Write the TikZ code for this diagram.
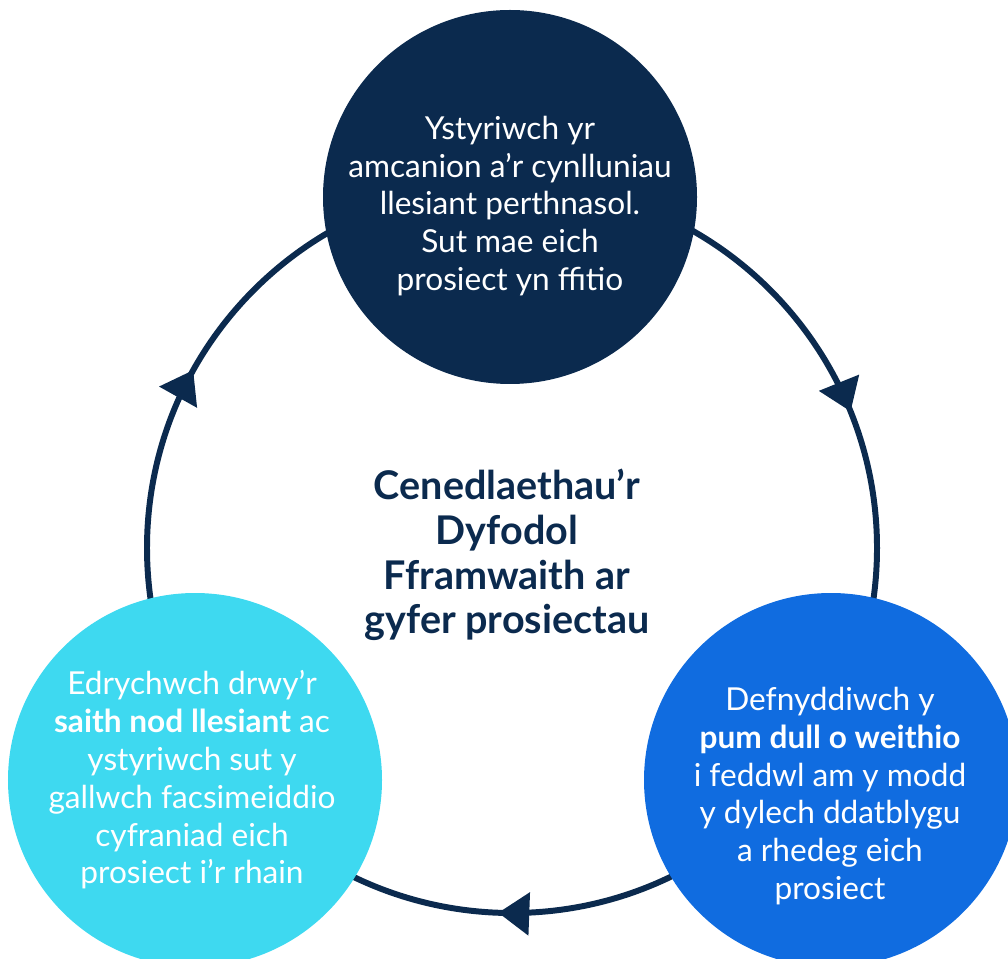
\documentclass[tikz,border=0pt]{standalone}
\usepackage{fontspec}
\setmainfont{Lato}
\usepackage{xcolor}
\usepackage{tikz}
\usetikzlibrary{arrows.meta,positioning,calc,decorations.markings}

\definecolor{navy}{HTML}{0B2A4E}
\definecolor{aqua}{HTML}{3ED9F0}
\definecolor{royal}{HTML}{106CE0}

\begin{document}
\begin{tikzpicture}[
    bubble/.style={circle, minimum size=7.48cm, inner sep=0pt},
    bubbletext/.style={align=center, text=white, font=\fontsize{18}{21.5}\selectfont},
    ring/.style={draw=navy, line width=3.4pt}
]
    \clip (0,0) rectangle (20.16,19.16);

    % the cycle behind the three circles
    \coordinate (hub) at (10.24, 8.20);
    \draw[ring, postaction={decorate}, decoration={markings,
        mark=at position 0.189 with {\arrow[navy]{Triangle[length=0.62cm, width=0.84cm]}},
        mark=at position 0.506 with {\arrow[navy]{Triangle[length=0.62cm, width=0.84cm]}},
        mark=at position 0.831 with {\arrow[navy]{Triangle[length=0.62cm, width=0.84cm]}}}]
        ([shift={(90:7.3)}]hub) arc[start angle=90, end angle=-270, radius=7.3];

    % framework title
    \node[align=center, text=navy, font=\fontsize{22.5}{25.5}\bfseries] (title) at (10.14, 8.06)
        {Cenedlaethau’r\\Dyfodol\\Fframwaith ar\\gyfer prosiectau};

    % top - goals
    \node[bubble, fill=navy] (goals) at (10.2, 15.22) {};
    \node[bubbletext] (goalstext) at ([yshift=-0.18cm]goals.center)
        {Ystyriwch yr\\amcanion a’r cynlluniau\\llesiant perthnasol.\\Sut mae eich\\prosiect yn ffitio};

    % right - ways of working
    \node[bubble, fill=royal] (ways) at (16.62, 3.56) {};
    \node[bubbletext] (waystext) at ([xshift=-0.02cm, yshift=-0.32cm]ways.center)
        {Defnyddiwch y\\\textbf{pum dull o weithio}\\i feddwl am y modd\\y dylech ddatblygu\\a rhedeg eich\\prosiect};

    % left - well-being goals
    \node[bubble, fill=aqua] (nodau) at (3.9, 3.56) {};
    \node[bubbletext] (nodautext) at ([xshift=-0.06cm]nodau.center)
        {Edrychwch drwy’r\\\textbf{saith nod llesiant} ac\\ystyriwch sut y\\gallwch facsimeiddio\\cyfraniad eich\\prosiect i’r rhain};
\end{tikzpicture}
\end{document}
